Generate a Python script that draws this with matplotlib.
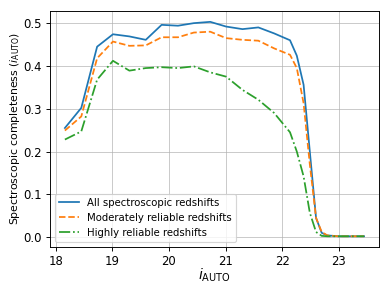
import numpy as np
import matplotlib
matplotlib.use("Agg")
import matplotlib.pyplot as plt

mag = [18.16, 18.45, 18.73, 19.01, 19.30, 19.59, 19.87, 20.16, 20.44, 20.73,
       21.01, 21.30, 21.58, 21.86, 22.14, 22.26, 22.38, 22.49, 22.60, 22.70,
       22.80, 23.00, 23.20, 23.45]
all_z = [0.255, 0.302, 0.445, 0.474, 0.469, 0.461, 0.496, 0.494, 0.500, 0.503,
         0.492, 0.486, 0.490, 0.476, 0.460, 0.424, 0.356, 0.200, 0.045, 0.010,
         0.004, 0.002, 0.002, 0.002]
moderate_z = [0.249, 0.282, 0.418, 0.457, 0.447, 0.448, 0.467, 0.467, 0.478, 0.480,
              0.465, 0.461, 0.459, 0.441, 0.426, 0.395, 0.313, 0.170, 0.045, 0.012,
              0.004, 0.002, 0.002, 0.002]
high_z = [0.228, 0.247, 0.368, 0.412, 0.389, 0.395, 0.397, 0.395, 0.399, 0.385,
          0.375, 0.344, 0.321, 0.290, 0.245, 0.200, 0.142, 0.057, 0.012, 0.003,
          0.002, 0.002, 0.002, 0.002]

# drawn a bit larger at a lower dpi so that it comes out at 390x293
fig, ax = plt.subplots(figsize=(390 / 84, 293 / 84), dpi=84)
fig.subplots_adjust(left=0.128, right=0.972, top=0.962, bottom=0.157)

ax.plot(mag, all_z, '-', label='All spectroscopic redshifts')
ax.plot(mag, moderate_z, '--', label='Moderately reliable redshifts')
ax.plot(mag, high_z, '-.', label='Highly reliable redshifts')

ax.grid(True, color='#b0b0b0', alpha=0.7)
ax.tick_params(labelsize=10)
ax.set_xlabel(r'$i_{\rm AUTO}$', fontsize=12)
ax.set_ylabel(r'Spectroscopic completeness ($i_{\rm AUTO}$)', fontsize=9.3)
ax.xaxis.set_label_coords(0.5, -0.085)
ax.yaxis.set_label_coords(-0.085, 0.5)
ax.legend(loc='lower left', fontsize=8.7)

fig.savefig('out.png', dpi=84)
